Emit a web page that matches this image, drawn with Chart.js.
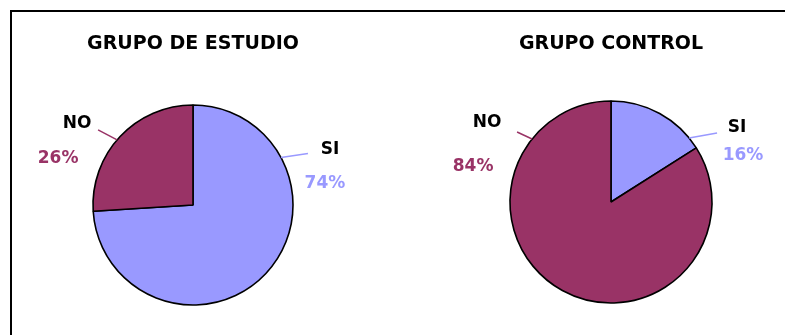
<!DOCTYPE html>
<html>
<head>
<meta charset="utf-8">
<script src="https://cdn.jsdelivr.net/npm/chart.js@4/dist/chart.umd.min.js"></script>
<style>
  html, body { margin: 0; padding: 0; background: #fff; overflow: hidden; }
  #stage { position: relative; width: 785px; height: 335px; overflow: hidden; }
  #frame { position: absolute; left: 10px; top: 10px; width: 800px; height: 400px;
           border-left: 2px solid #000; border-top: 2px solid #000; }
  .pie { position: absolute; top: 0; height: 335px; }
  #c1 { left: 0; width: 386px; }
  #c2 { left: 437px; width: 348px; }
</style>
</head>
<body>
<div id="stage">
  <div id="frame"></div>
  <div class="pie" id="c1"><canvas id="pieEstudio"></canvas></div>
  <div class="pie" id="c2"><canvas id="pieControl"></canvas></div>
</div>
<script>
// Answer categories and the share (%) of each group that gave them
const categories = ['SI', 'NO'];
const estudioValues = [74, 26];
const controlValues = [16, 84];
const groupTitles = ['GRUPO DE ESTUDIO', 'GRUPO CONTROL'];

const sliceColors = ['#9999FF', '#993366'];
const FONT = '"DejaVu Sans", Verdana, sans-serif';

// Callout placement for each slice: where the leader leaves the rim
// (degrees clockwise from 12 o'clock), the leader vector, and the
// offsets of the name and percentage from the leader's outer end.
const calloutsEstudio = [
  { angle: 61.6,  lead: [27, -4],  name: [22, -4],   pct: [17, 30] },
  { angle: 310.6, lead: [-19, -10], name: [-21, -6], pct: [-40, 29] }
];
const calloutsControl = [
  { angle: 50.6,  lead: [28, -5],  name: [20, -5],   pct: [26, 23] },
  { angle: 308.6, lead: [-15, -7], name: [-30, -9],  pct: [-44, 35] }
];

const calloutPlugin = {
  id: 'callouts',
  afterDatasetsDraw(chart, args, opts) {
    const ctx = chart.ctx;
    const meta = chart.getDatasetMeta(0);
    const values = chart.data.datasets[0].data;
    const labels = chart.data.labels;
    const colors = chart.data.datasets[0].backgroundColor;
    meta.data.forEach((arc, i) => {
      const c = opts.layout[i];
      const p = arc.getProps(['x', 'y', 'outerRadius'], true);
      const a = c.angle * Math.PI / 180;
      const sx = p.x + Math.sin(a) * p.outerRadius;
      const sy = p.y - Math.cos(a) * p.outerRadius;
      const ex = sx + c.lead[0];
      const ey = sy + c.lead[1];
      ctx.save();
      ctx.strokeStyle = colors[i];
      ctx.lineWidth = 1.5;
      ctx.beginPath();
      ctx.moveTo(sx, sy);
      ctx.lineTo(ex, ey);
      ctx.stroke();
      ctx.font = 'bold 17px ' + FONT;
      ctx.textAlign = 'center';
      ctx.textBaseline = 'middle';
      ctx.fillStyle = '#000';
      ctx.fillText(labels[i], ex + c.name[0], ey + c.name[1]);
      ctx.fillStyle = colors[i];
      ctx.fillText(values[i] + '%', ex + c.pct[0], ey + c.pct[1]);
      ctx.restore();
    });
  }
};

function makePie(canvasId, title, values, layout, pad) {
  return new Chart(document.getElementById(canvasId), {
    type: 'pie',
    data: {
      labels: categories,
      datasets: [{
        data: values,
        backgroundColor: sliceColors,
        borderColor: '#000',
        borderWidth: 1.6
      }]
    },
    options: {
      responsive: true,
      maintainAspectRatio: false,
      animation: false,
      events: [],
      layout: { padding: { top: 0, bottom: pad.bottom, left: 0, right: 0 } },
      plugins: {
        legend: { display: false },
        tooltip: { enabled: false },
        title: {
          display: true,
          text: title,
          color: '#000',
          font: { family: FONT, size: 19, weight: 'bold' },
          padding: { top: 33, bottom: pad.titleBottom }
        },
        callouts: { layout: layout }
      }
    },
    plugins: [calloutPlugin]
  });
}

makePie('pieEstudio', groupTitles[0], estudioValues, calloutsEstudio, { bottom: 29.2, titleBottom: 48.4 });
makePie('pieControl', groupTitles[1], controlValues, calloutsControl, { bottom: 31.2, titleBottom: 44.4 });
</script>
</body>
</html>
